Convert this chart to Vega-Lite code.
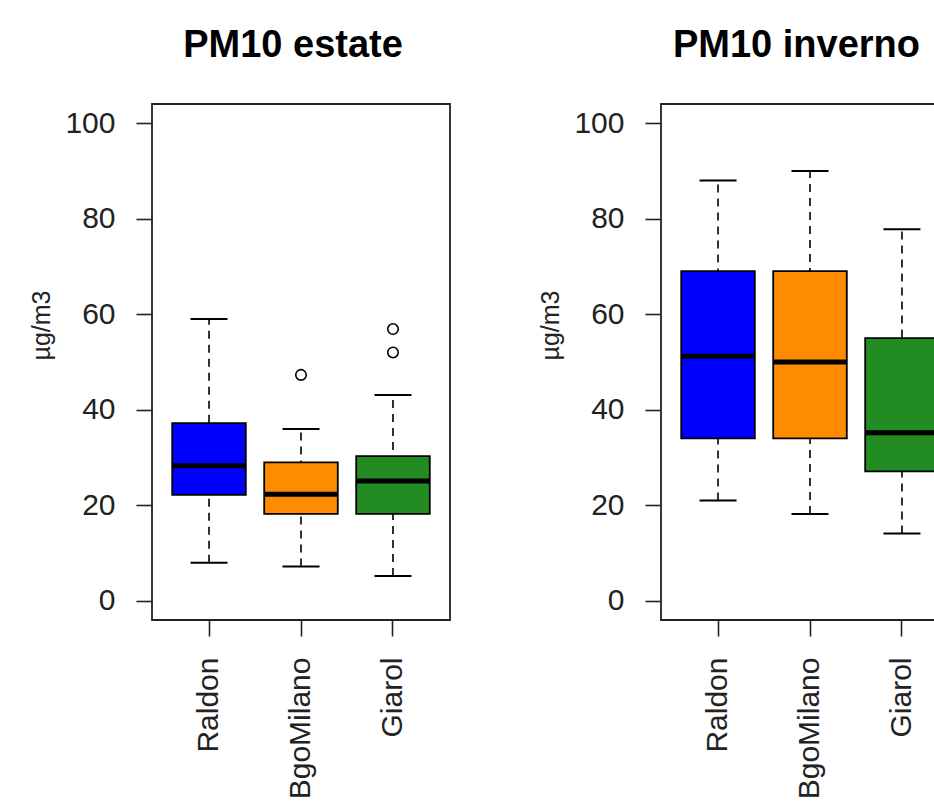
{
  "$schema": "https://vega.github.io/schema/vega-lite/v6.json",
  "autosize": {"type": "pad"},
  "padding": {"left": 29, "top": 26, "right": 0, "bottom": 0},
  "background": "white",
  "datasets": {
    "box": [
      {"season": "estate", "site": "Raldon", "lo": 8, "q1": 22.2, "med": 28.3, "q3": 37.2, "hi": 59},
      {"season": "estate", "site": "BgoMilano", "lo": 7.2, "q1": 18.2, "med": 22.3, "q3": 29, "hi": 36},
      {"season": "estate", "site": "Giarol", "lo": 5.2, "q1": 18.2, "med": 25.1, "q3": 30.3, "hi": 43.1},
      {"season": "inverno", "site": "Raldon", "lo": 21, "q1": 34, "med": 51.2, "q3": 69, "hi": 88},
      {"season": "inverno", "site": "BgoMilano", "lo": 18.2, "q1": 34, "med": 50, "q3": 69, "hi": 90},
      {"season": "inverno", "site": "Giarol", "lo": 14.1, "q1": 27.1, "med": 35.2, "q3": 55, "hi": 77.8}
    ],
    "out": [
      {"season": "estate", "site": "BgoMilano", "value": 47.3},
      {"season": "estate", "site": "Giarol", "value": 56.9},
      {"season": "estate", "site": "Giarol", "value": 52}
    ]
  },
  "spacing": 87,
  "hconcat": [
    {
      "title": {"text": "PM10 estate", "dx": -8},
      "width": 298,
      "height": 516,
      "encoding": {
        "x": {"field": "site", "type": "nominal", "sort": ["Raldon", "BgoMilano", "Giarol"],
              "scale": {"type": "band", "paddingInner": 0.2, "paddingOuter": 0.22},
              "axis": {"title": null, "labelAngle": 270}},
        "y": {"type": "quantitative", "scale": {"domain": [-4, 104], "nice": false, "zero": false},
              "axis": {"title": "µg/m3", "values": [0, 20, 40, 60, 80, 100]}}
      },
      "layer": [
        {"data": {"name": "box"}, "transform": [{"filter": "datum.season == 'estate'"}],
         "mark": {"type": "rule", "color": "black", "strokeWidth": 1.6, "strokeDash": [8, 6]},
         "encoding": {"y": {"field": "lo", "type": "quantitative"}, "y2": {"field": "hi"}}},
        {"data": {"name": "box"}, "transform": [{"filter": "datum.season == 'estate'"}],
         "mark": {"type": "tick", "color": "black", "size": 37, "thickness": 2, "opacity": 1},
         "encoding": {"y": {"field": "lo", "type": "quantitative"}}},
        {"data": {"name": "box"}, "transform": [{"filter": "datum.season == 'estate'"}],
         "mark": {"type": "tick", "color": "black", "size": 37, "thickness": 2, "opacity": 1},
         "encoding": {"y": {"field": "hi", "type": "quantitative"}}},
        {"data": {"name": "box"}, "transform": [{"filter": "datum.season == 'estate'"}],
         "mark": {"type": "bar", "stroke": "black", "strokeWidth": 1.8, "opacity": 1},
         "encoding": {"y": {"field": "q1", "type": "quantitative"}, "y2": {"field": "q3"},
                      "color": {"field": "site", "type": "nominal",
                                "scale": {"domain": ["Raldon", "BgoMilano", "Giarol"], "range": ["#0000FF", "#FF8C00", "#228B22"]},
                                "legend": null}}},
        {"data": {"name": "box"}, "transform": [{"filter": "datum.season == 'estate'"}],
         "mark": {"type": "tick", "color": "black", "size": 74, "thickness": 5, "opacity": 1},
         "encoding": {"y": {"field": "med", "type": "quantitative"}}},
        {"data": {"name": "out"}, "transform": [{"filter": "datum.season == 'estate'"}],
         "mark": {"type": "point", "shape": "circle", "filled": false, "color": "black", "size": 110, "strokeWidth": 1.6, "opacity": 1},
         "encoding": {"y": {"field": "value", "type": "quantitative"}}}
      ]
    },
    {
      "title": {"text": "PM10 inverno", "dx": -2},
      "width": 275,
      "height": 516,
      "encoding": {
        "x": {"field": "site", "type": "nominal", "sort": ["Raldon", "BgoMilano", "Giarol"],
              "scale": {"type": "band", "paddingInner": 0.2, "paddingOuter": 0.22, "range": [0, 298]},
              "axis": {"title": null, "labelAngle": 270}},
        "y": {"type": "quantitative", "scale": {"domain": [-4, 104], "nice": false, "zero": false},
              "axis": {"title": "µg/m3", "values": [0, 20, 40, 60, 80, 100]}}
      },
      "layer": [
        {"data": {"name": "box"}, "transform": [{"filter": "datum.season == 'inverno'"}],
         "mark": {"type": "rule", "color": "black", "strokeWidth": 1.6, "strokeDash": [8, 6], "clip": true},
         "encoding": {"y": {"field": "lo", "type": "quantitative"}, "y2": {"field": "hi"}}},
        {"data": {"name": "box"}, "transform": [{"filter": "datum.season == 'inverno'"}],
         "mark": {"type": "tick", "color": "black", "size": 37, "thickness": 2, "opacity": 1, "clip": true},
         "encoding": {"y": {"field": "lo", "type": "quantitative"}}},
        {"data": {"name": "box"}, "transform": [{"filter": "datum.season == 'inverno'"}],
         "mark": {"type": "tick", "color": "black", "size": 37, "thickness": 2, "opacity": 1, "clip": true},
         "encoding": {"y": {"field": "hi", "type": "quantitative"}}},
        {"data": {"name": "box"}, "transform": [{"filter": "datum.season == 'inverno'"}],
         "mark": {"type": "bar", "stroke": "black", "strokeWidth": 1.8, "opacity": 1, "clip": true},
         "encoding": {"y": {"field": "q1", "type": "quantitative"}, "y2": {"field": "q3"},
                      "color": {"field": "site", "type": "nominal",
                                "scale": {"domain": ["Raldon", "BgoMilano", "Giarol"], "range": ["#0000FF", "#FF8C00", "#228B22"]},
                                "legend": null}}},
        {"data": {"name": "box"}, "transform": [{"filter": "datum.season == 'inverno'"}],
         "mark": {"type": "tick", "color": "black", "size": 74, "thickness": 5, "opacity": 1, "clip": true},
         "encoding": {"y": {"field": "med", "type": "quantitative"}}}
      ]
    }
  ],
  "config": {
    "font": "Liberation Sans",
    "view": {"stroke": "#222222", "strokeWidth": 1.8},
    "title": {"fontSize": 38, "fontWeight": "bold", "font": "Liberation Sans", "color": "black",
              "baseline": "alphabetic", "offset": 39, "anchor": "middle"},
    "axis": {"domain": false, "grid": false, "ticks": true, "tickColor": "#222222", "tickWidth": 1.6,
             "tickSize": 16, "labelPadding": 21, "labelFontSize": 30, "labelColor": "#222222",
             "labelFont": "Liberation Sans", "titleFont": "Liberation Sans", "titleFontSize": 25,
             "titleFontWeight": "normal", "titleColor": "#222222", "titlePadding": 10,
             "bandPosition": 0.5, "labelOverlap": false, "labelFlush": false},
    "axisY": {"titleY": 221}
  }
}
